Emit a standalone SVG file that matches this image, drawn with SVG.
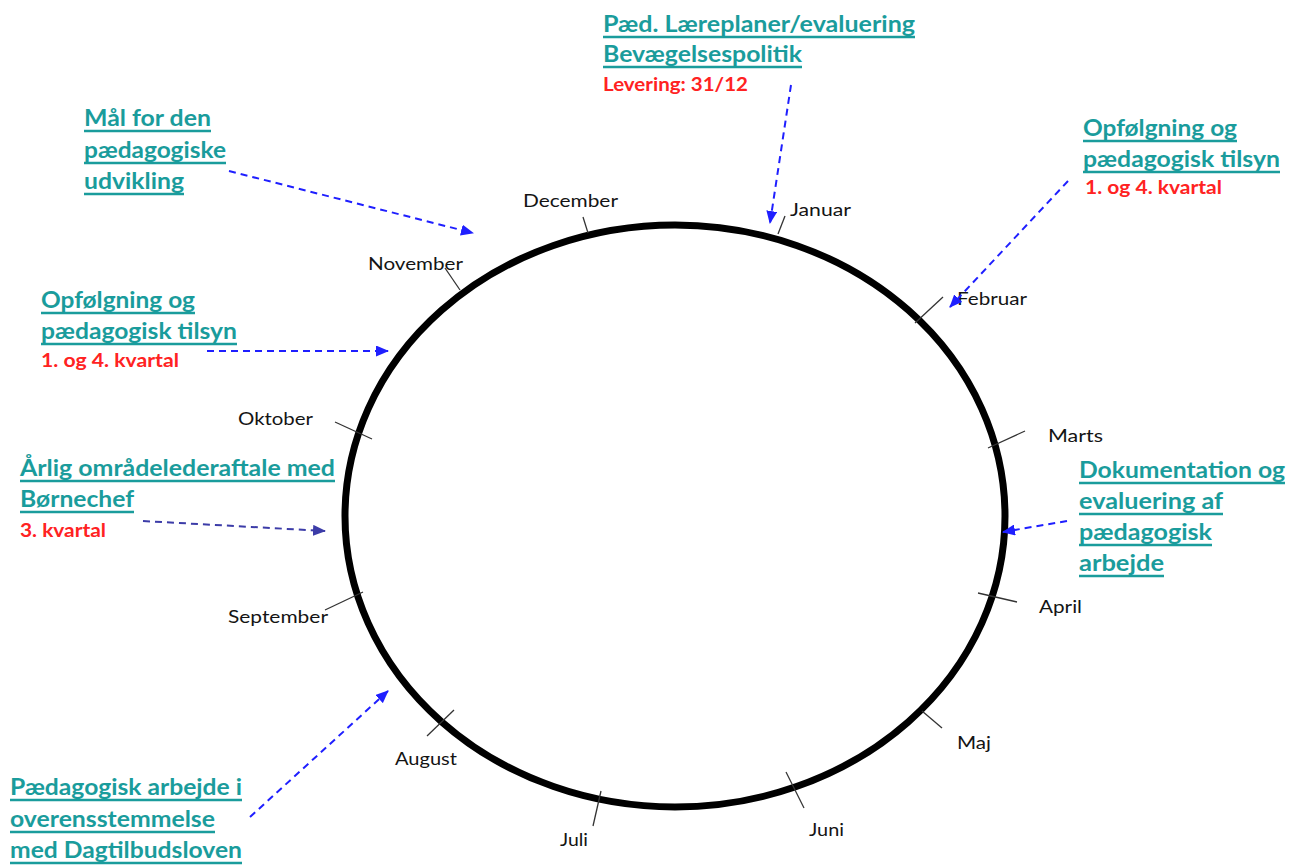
<svg xmlns="http://www.w3.org/2000/svg" width="1289" height="865" viewBox="0 0 1289 865">
<style>
.teal{font-family:Lato,"Open Sans","Liberation Sans",sans-serif;font-weight:bold;font-size:22.5px;fill:#1a9c9c}
.ul{stroke:#1a9c9c;stroke-width:2.6}
.red{font-family:Lato,"Open Sans","Liberation Sans",sans-serif;font-weight:bold;font-size:18px;fill:#ff2222}
.month{font-family:Lato,"Open Sans","Liberation Sans",sans-serif;font-size:17px;fill:#141414}
.tick{stroke:#333;stroke-width:1.3}
.arrow{fill:none;stroke:#1f1fff;stroke-width:2;stroke-dasharray:7 5;marker-end:url(#ah)}
.arrow2{fill:none;stroke:#3c3ca8;stroke-width:2;stroke-dasharray:7 5;marker-end:url(#ah2)}
</style>
<defs>
<marker id="ah" markerUnits="userSpaceOnUse" markerWidth="13" markerHeight="11" refX="12" refY="5.5" orient="auto"><path d="M0,0 L13,5.5 L0,11 z" fill="#1f1fff"/></marker>
<marker id="ah2" markerUnits="userSpaceOnUse" markerWidth="13" markerHeight="11" refX="12" refY="5.5" orient="auto"><path d="M0,0 L13,5.5 L0,11 z" fill="#3c3ca8"/></marker>
</defs>
<rect width="1289" height="865" fill="#fff"/>

<g id="year-wheel">
<ellipse cx="675" cy="516" rx="330" ry="291" fill="none" stroke="#000" stroke-width="7"/>
<g id="ticks">
<line class="tick" x1="583" y1="217" x2="588" y2="233"/>
<line class="tick" x1="778" y1="234" x2="785" y2="216"/>
<line class="tick" x1="915" y1="323" x2="943" y2="297"/>
<line class="tick" x1="988" y1="448" x2="1025" y2="431"/>
<line class="tick" x1="978" y1="593" x2="1017" y2="602"/>
<line class="tick" x1="922" y1="711" x2="942" y2="728"/>
<line class="tick" x1="786" y1="772" x2="804" y2="808"/>
<line class="tick" x1="601" y1="791" x2="593" y2="826"/>
<line class="tick" x1="427" y1="736" x2="454" y2="710"/>
<line class="tick" x1="325" y1="610" x2="363" y2="592"/>
<line class="tick" x1="335" y1="422" x2="372" y2="439"/>
<line class="tick" x1="445" y1="268" x2="460" y2="290"/>
</g>
<g id="months">
<text class="month" x="523" y="207" textLength="95" lengthAdjust="spacingAndGlyphs">December</text>
<text class="month" x="790" y="216" textLength="61" lengthAdjust="spacingAndGlyphs">Januar</text>
<text class="month" x="957" y="305" textLength="70" lengthAdjust="spacingAndGlyphs">Februar</text>
<text class="month" x="1048" y="442" textLength="55" lengthAdjust="spacingAndGlyphs">Marts</text>
<text class="month" x="1039" y="613" textLength="43" lengthAdjust="spacingAndGlyphs">April</text>
<text class="month" x="957" y="749" textLength="34" lengthAdjust="spacingAndGlyphs">Maj</text>
<text class="month" x="809" y="836" textLength="35" lengthAdjust="spacingAndGlyphs">Juni</text>
<text class="month" x="560" y="846" textLength="28" lengthAdjust="spacingAndGlyphs">Juli</text>
<text class="month" x="395" y="765" textLength="62" lengthAdjust="spacingAndGlyphs">August</text>
<text class="month" x="228" y="623" textLength="100" lengthAdjust="spacingAndGlyphs">September</text>
<text class="month" x="238" y="425" textLength="75" lengthAdjust="spacingAndGlyphs">Oktober</text>
<text class="month" x="368" y="270" textLength="95" lengthAdjust="spacingAndGlyphs">November</text>
</g>
</g>

<g id="node-laereplaner">
<text class="teal" x="603" y="32" textLength="312" lengthAdjust="spacingAndGlyphs">Pæd. Læreplaner/evaluering</text>
<line class="ul" x1="603" y1="37" x2="915" y2="37"/>
<text class="teal" x="603" y="62" textLength="199" lengthAdjust="spacingAndGlyphs">Bevægelsespolitik</text>
<line class="ul" x1="603" y1="67" x2="802" y2="67"/>
<text class="red" x="603" y="91" textLength="145" lengthAdjust="spacingAndGlyphs">Levering: 31/12</text>
</g>

<g id="node-maal">
<text class="teal" x="84" y="126" textLength="127" lengthAdjust="spacingAndGlyphs">Mål for den</text>
<line class="ul" x1="84" y1="131" x2="211" y2="131"/>
<text class="teal" x="84" y="158" textLength="142" lengthAdjust="spacingAndGlyphs">pædagogiske</text>
<line class="ul" x1="84" y1="163" x2="226" y2="163"/>
<text class="teal" x="84" y="189" textLength="100" lengthAdjust="spacingAndGlyphs">udvikling</text>
<line class="ul" x1="84" y1="194" x2="184" y2="194"/>
</g>

<g id="node-opfoelgning-right">
<text class="teal" x="1083" y="136" textLength="154" lengthAdjust="spacingAndGlyphs">Opfølgning og</text>
<line class="ul" x1="1083" y1="141" x2="1237" y2="141"/>
<text class="teal" x="1083" y="167" textLength="197" lengthAdjust="spacingAndGlyphs">pædagogisk tilsyn</text>
<line class="ul" x1="1083" y1="172" x2="1280" y2="172"/>
<text class="red" x="1085" y="194" textLength="137" lengthAdjust="spacingAndGlyphs">1. og 4. kvartal</text>
</g>

<g id="node-opfoelgning-left">
<text class="teal" x="41" y="308" textLength="154" lengthAdjust="spacingAndGlyphs">Opfølgning og</text>
<line class="ul" x1="41" y1="313" x2="195" y2="313"/>
<text class="teal" x="41" y="339" textLength="196" lengthAdjust="spacingAndGlyphs">pædagogisk tilsyn</text>
<line class="ul" x1="41" y1="344" x2="237" y2="344"/>
<text class="red" x="41" y="367" textLength="138" lengthAdjust="spacingAndGlyphs">1. og 4. kvartal</text>
</g>

<g id="node-aarlig">
<text class="teal" x="20" y="476" textLength="315" lengthAdjust="spacingAndGlyphs">Årlig områdelederaftale med</text>
<line class="ul" x1="20" y1="481" x2="335" y2="481"/>
<text class="teal" x="20" y="507" textLength="114" lengthAdjust="spacingAndGlyphs">Børnechef</text>
<line class="ul" x1="20" y1="512" x2="134" y2="512"/>
<text class="red" x="20" y="537" textLength="86" lengthAdjust="spacingAndGlyphs">3. kvartal</text>
</g>

<g id="node-dokumentation">
<text class="teal" x="1079" y="478" textLength="206" lengthAdjust="spacingAndGlyphs">Dokumentation og</text>
<line class="ul" x1="1079" y1="483" x2="1285" y2="483"/>
<text class="teal" x="1079" y="509" textLength="144" lengthAdjust="spacingAndGlyphs">evaluering af</text>
<line class="ul" x1="1079" y1="514" x2="1223" y2="514"/>
<text class="teal" x="1079" y="540" textLength="133" lengthAdjust="spacingAndGlyphs">pædagogisk</text>
<line class="ul" x1="1079" y1="545" x2="1212" y2="545"/>
<text class="teal" x="1079" y="571" textLength="85" lengthAdjust="spacingAndGlyphs">arbejde</text>
<line class="ul" x1="1079" y1="576" x2="1164" y2="576"/>
</g>

<g id="node-paedagogisk-arbejde">
<text class="teal" x="10" y="795" textLength="232" lengthAdjust="spacingAndGlyphs">Pædagogisk arbejde i</text>
<line class="ul" x1="10" y1="800" x2="242" y2="800"/>
<text class="teal" x="10" y="827" textLength="205" lengthAdjust="spacingAndGlyphs">overensstemmelse</text>
<line class="ul" x1="10" y1="832" x2="215" y2="832"/>
<text class="teal" x="10" y="858" textLength="232" lengthAdjust="spacingAndGlyphs">med Dagtilbudsloven</text>
<line class="ul" x1="10" y1="863" x2="242" y2="863"/>
</g>

<g id="connectors">
<path class="arrow" d="M791,85 L770,223"/>
<path class="arrow" d="M229,171 L473,233"/>
<path class="arrow" d="M207,351 L388,351"/>
<path class="arrow" d="M1068,181 L950,307"/>
<path class="arrow2" d="M143,521 L325,531"/>
<path class="arrow" d="M1067,521 L1003,532"/>
<path class="arrow" d="M250,817 L388,691"/>
</g>
</svg>
